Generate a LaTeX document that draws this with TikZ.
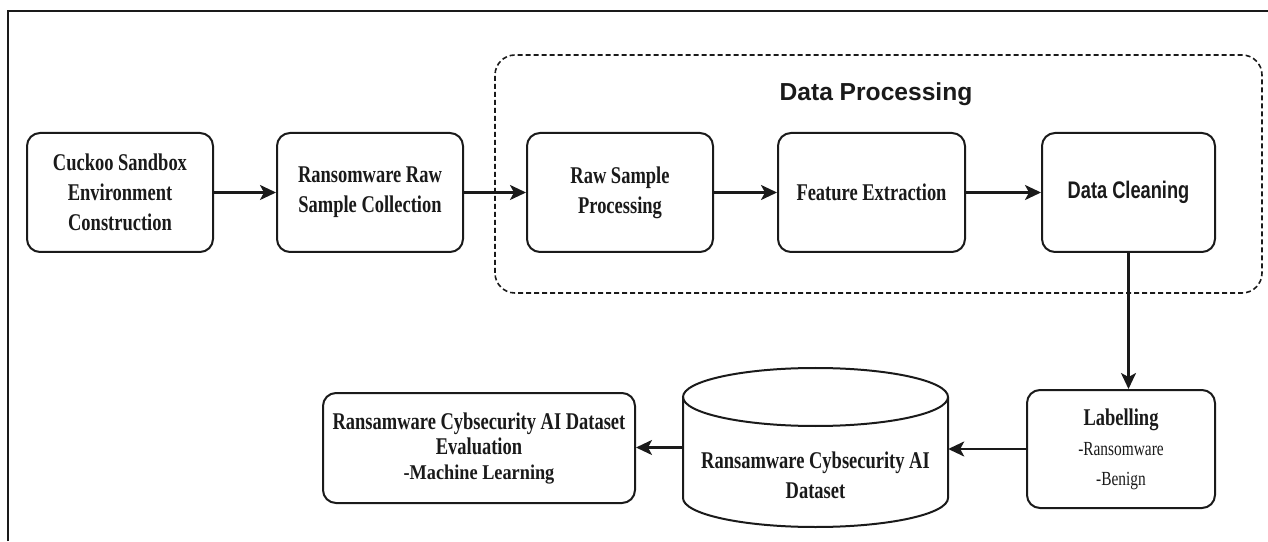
\documentclass[tikz,border=0pt]{standalone}
\usepackage{fontspec}
\usetikzlibrary{arrows.meta}
\newfontfamily\boxfont{Liberation Serif}[FakeStretch=0.77]
\newfontfamily\mlfont{Liberation Serif}[FakeStretch=0.87]
\newfontfamily\titlefont{Liberation Sans}
\newfontfamily\cleanfont{Liberation Sans}[FakeStretch=0.76]
\newcommand\boxtxt{\boxfont\bfseries\fontsize{24}{30}\selectfont}
\definecolor{inkblk}{HTML}{1A1A1A}

\begin{document}
\begin{tikzpicture}[x=1pt, y=1pt,
  procbox/.style={draw=inkblk, line width=2pt, rounded corners=13pt, align=center,
    inner sep=0pt, text=inkblk, font=\boxtxt},
  flow/.style={-{Stealth[length=16pt, width=15pt, inset=4pt]}, draw=inkblk, line width=2.2pt}]

\useasboundingbox (0,0) rectangle (1268,541);

% Frame
\draw[inkblk, line width=2.4pt] (8,0) -- (8,530) -- (1268,530);

% Data processing group
\draw[inkblk, line width=1.6pt, dash pattern=on 5pt off 3pt, rounded corners=20pt]
  (495,248) rectangle (1262,486);
\node[font=\titlefont\bfseries\fontsize{24.6}{28}\selectfont, text=inkblk, anchor=base]
  (dptitle) at (876,440) {Data Processing};

% Top row
\node[procbox, minimum width=186pt, minimum height=119pt] (cuckoo) at (120,348.5)
  {Cuckoo Sandbox\\Environment\\Construction};
\node[procbox, minimum width=186pt, minimum height=119pt] (rawcol) at (370,348.5)
  {Ransomware Raw\\Sample Collection};
\node[procbox, minimum width=186pt, minimum height=119pt] (rawproc) at (620,348.5)
  {Raw Sample\\Processing};
\node[procbox, minimum width=187pt, minimum height=119pt] (featext) at (871.5,348.5)
  {Feature Extraction};
\node[procbox, minimum width=173pt, minimum height=119pt,
  font=\cleanfont\bfseries\fontsize{24}{28}\selectfont] (dclean) at (1128.5,348.5) {Data Cleaning};

% Bottom row
\node[procbox, minimum width=188pt, minimum height=118pt] (label) at (1121,92)
  {Labelling\\{\mdseries\fontsize{20}{30}\selectfont -Ransomware}\\
   {\mdseries\fontsize{20}{30}\selectfont -Benign}};

% Dataset cylinder
\node[minimum width=265pt, minimum height=159pt, inner sep=0pt] (dset) at (815.5,93.5) {};
\draw[inkblk, line width=2pt] (683,144) -- (683,43)
  arc[start angle=180, end angle=360, x radius=132.5, y radius=29] -- (948,144);
\draw[inkblk, line width=2pt] (815.5,144) ellipse[x radius=132.5, y radius=29];
\node[font=\boxtxt, text=inkblk, align=center] (dsettxt) at (815.5,66)
  {Ransamware Cybsecurity AI\\Dataset};

\node[procbox, minimum width=312pt, minimum height=110pt,
  font=\boxfont\bfseries\fontsize{24}{25}\selectfont] (evalds) at (479,93)
  {Ransamware Cybsecurity AI Dataset\\Evaluation\\
   {\mlfont\bfseries\fontsize{21}{25}\selectfont -Machine Learning}};

% Connectors
\draw[flow] (cuckoo) -- (rawcol);
\draw[flow] (rawcol) -- (rawproc);
\draw[flow] (rawproc) -- (featext);
\draw[flow] (featext) -- (dclean);
\draw[flow] (dclean.south) -- (dclean.south |- label.north);
\draw[flow] (label.west) -- (label.west -| dset.east);
\draw[flow] (dset.west) -- (dset.west -| evalds.east);

\end{tikzpicture}
\end{document}
